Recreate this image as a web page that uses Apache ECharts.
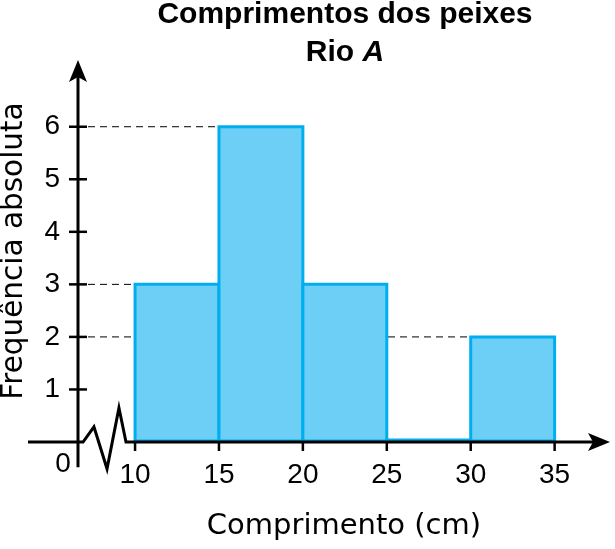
<!DOCTYPE html>
<html><head><meta charset="utf-8">
<script src="https://cdn.jsdelivr.net/npm/echarts@6/dist/echarts.min.js"></script>
<style>html,body{margin:0;padding:0;background:#fff}#c{width:615px;height:549px}</style>
</head><body><div id="c"></div>
<script>
const titleLine1 = 'Comprimentos dos peixes';
const titleLine2a = 'Rio ';
const titleLine2b = 'A';
const xName = 'Comprimento (cm)';
const yName = 'Frequência absoluta';
const binStarts = [10, 15, 20, 25, 30];
const binEnds = [15, 20, 25, 30, 35];
const freq = [3, 6, 3, 0, 2];
const xTicks = [10, 15, 20, 25, 30, 35];
const yTicks = [1, 2, 3, 4, 5, 6];

const X_MIN = 6.6, X_MAX = 38.3, X_LEFT_EXT = 3.62;
const Y_MIN = 0, Y_MAX = 7.27, Y_LOW_EXT = -0.48;
// axis break zigzag (in data units)
const zig = [[6.9, 0], [7.55, 0.29], [8.33, -0.51], [9.04, 0.65], [9.46, 0]];

// dashed guides: for each nonzero level, from axis to leftmost bar reaching it
const guides = [];
const seen = {};
freq.forEach((f, i) => { if (f > 0 && !seen[f]) { seen[f] = 1; guides.push([f, binStarts[i]]); } });

const FONT = 'Liberation Sans';
const NAME_FONT = 'DejaVu Sans';
const chart = echarts.init(document.getElementById('c'), null, {renderer: 'canvas'});

const barData = binStarts.map((s, i) => [s, binEnds[i], freq[i]]);

chart.setOption({
  animation: false,
  backgroundColor: '#fff',
  graphic: [{
    type: 'text', x: 345, y: -4, z: 100,
    style: {
      text: '{b|' + titleLine1 + '}\n{b|' + titleLine2a + '}{bi|' + titleLine2b + '}',
      align: 'center', verticalAlign: 'top',
      rich: {
        b: {fontFamily: FONT, fontWeight: 'bold', fontSize: 30, lineHeight: 38, fill: '#000'},
        bi: {fontFamily: FONT, fontWeight: 'bold', fontStyle: 'italic', fontSize: 30, lineHeight: 38, fill: '#000'}
      }
    }
  }],
  grid: {left: 78, right: 5, top: 60, bottom: 107, containLabel: false, outerBoundsMode: 'none'},
  xAxis: {
    type: 'value', min: X_MIN, max: X_MAX,
    splitLine: {show: false}, axisLine: {show: false}, axisTick: {show: false},
    axisLabel: {customValues: xTicks, fontFamily: FONT, fontSize: 28, color: '#000', margin: 19},
    name: xName, nameLocation: 'middle', nameGap: 70,
    nameTextStyle: {fontFamily: NAME_FONT, fontSize: 29, color: '#000'}
  },
  yAxis: {
    type: 'value', min: Y_MIN, max: Y_MAX,
    splitLine: {show: false}, axisLine: {show: false}, axisTick: {show: false},
    axisLabel: {customValues: yTicks, fontFamily: FONT, fontSize: 28, color: '#000', margin: 18},
    name: yName, nameLocation: 'middle', nameGap: 49, nameRotate: 90,
    nameTextStyle: {fontFamily: NAME_FONT, fontSize: 29.5, color: '#000'}
  },
  series: [
    {
      type: 'custom', z: 1, clip: false,
      data: guides,
      renderItem: function (params, api) {
        const lvl = api.value(0), xe = api.value(1);
        const a = api.coord([X_MIN, lvl]);
        const b = api.coord([xe, lvl]);
        return {type: 'line', shape: {x1: a[0] + 10, y1: a[1], x2: b[0], y2: b[1]},
          style: {stroke: '#000', lineWidth: 1, lineDash: [7, 5]}};
      }
    },
    {
      type: 'custom', z: 2, clip: false,
      data: barData,
      renderItem: function (params, api) {
        const p0 = api.coord([api.value(0), api.value(2)]);
        const p1 = api.coord([api.value(1), 0]);
        const h = Math.max(p1[1] - p0[1], 0);
        return {type: 'rect', shape: {x: p0[0], y: p0[1] - (h === 0 ? 2 : 0), width: p1[0] - p0[0], height: h === 0 ? 1 : h - 1},
          style: {fill: '#6dcff6', stroke: '#00aeef', lineWidth: 3}};
      }
    },
    {
      type: 'custom', z: 5, clip: false,
      data: [[0]],
      renderItem: function (params, api) {
        const children = [];
        const black = {stroke: '#000', lineWidth: 3, fill: null};
        const xl = api.coord([X_LEFT_EXT, 0]);
        const zpts = zig.map(p => api.coord(p));
        const xr = api.coord([X_MAX, 0]);
        children.push({type: 'polyline', shape: {points: [xl].concat(zpts).concat([[xr[0] - 14, xr[1]]])}, style: black});
        children.push({type: 'polygon', shape: {points: [[xr[0], xr[1]], [xr[0] - 22, xr[1] - 9], [xr[0] - 17, xr[1]], [xr[0] - 22, xr[1] + 9]]}, style: {fill: '#000'}});
        const yb = api.coord([X_MIN, Y_LOW_EXT]);
        const yt = api.coord([X_MIN, Y_MAX]);
        children.push({type: 'line', shape: {x1: yb[0], y1: yb[1], x2: yt[0], y2: yt[1] + 14}, style: black});
        children.push({type: 'polygon', shape: {points: [[yt[0], yt[1]], [yt[0] - 9, yt[1] + 22], [yt[0], yt[1] + 17], [yt[0] + 9, yt[1] + 22]]}, style: {fill: '#000'}});
        yTicks.forEach(v => {
          const p = api.coord([X_MIN, v]);
          children.push({type: 'line', shape: {x1: p[0] - 9, y1: p[1], x2: p[0] + 9, y2: p[1]}, style: {stroke: '#000', lineWidth: 2.5}});
        });
        xTicks.forEach(v => {
          const p = api.coord([v, 0]);
          children.push({type: 'line', shape: {x1: p[0], y1: p[1], x2: p[0], y2: p[1] + 9}, style: {stroke: '#000', lineWidth: 2.5}});
        });
        const o = api.coord([X_MIN, 0]);
        children.push({type: 'text', x: o[0] - 15, y: o[1] + 22, style: {text: '0', fontFamily: FONT, fontSize: 28, fill: '#000', align: 'center', verticalAlign: 'middle'}});
        return {type: 'group', children: children};
      }
    }
  ]
});
</script></body></html>
